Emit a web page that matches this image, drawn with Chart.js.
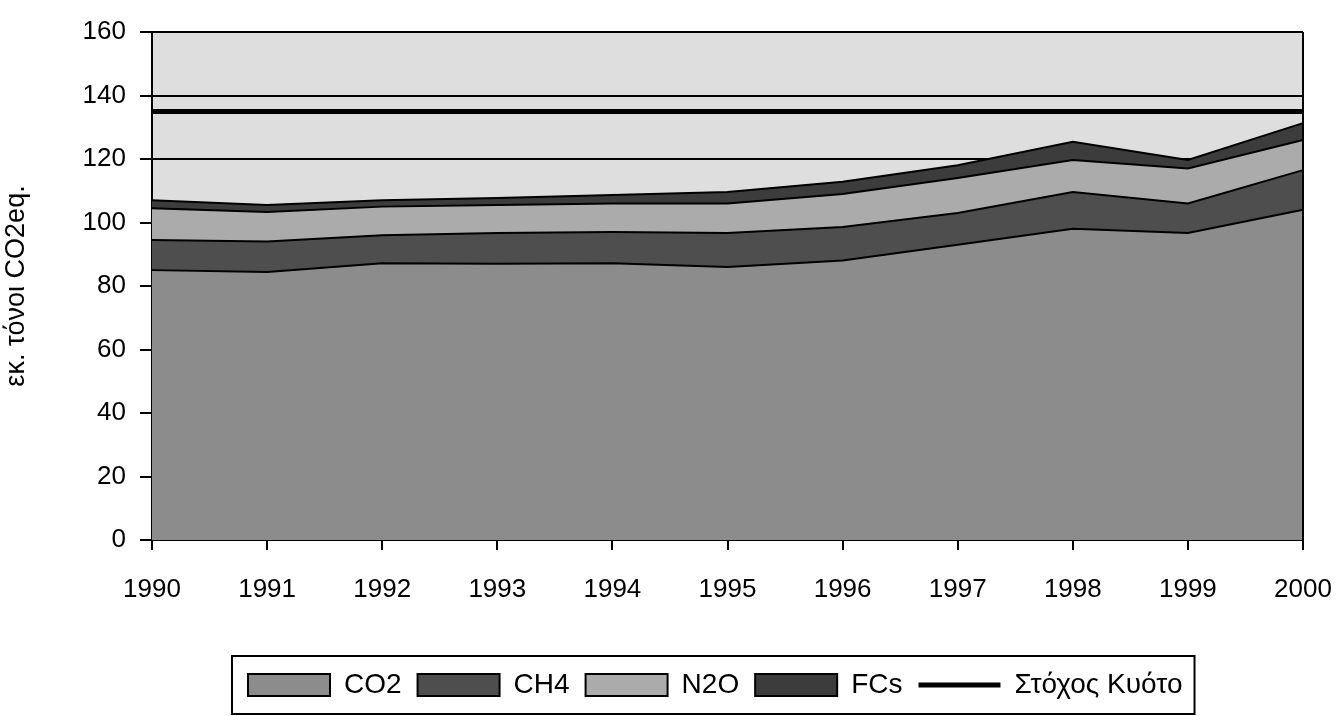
<!DOCTYPE html>
<html>
<head>
<meta charset="utf-8">
<script src="https://cdn.jsdelivr.net/npm/chart.js@4.4.1/dist/chart.umd.min.js"></script>
<style>
  html, body { margin: 0; padding: 0; background: #fff; }
</style>
</head>
<body>
<canvas id="myChart" width="1336" height="716"></canvas>
<script>
// values (million t CO2 eq.)
const years = ['1990', '1991', '1992', '1993', '1994', '1995', '1996', '1997', '1998', '1999', '2000'];
const co2 = [85, 84.4, 87.2, 87, 87.2, 86, 88, 93, 98, 96.7, 104];
const ch4 = [9.5, 9.6, 8.8, 9.7, 9.8, 10.7, 10.6, 10, 11.6, 9.3, 12.5];
const n2o = [10, 9.3, 9, 8.8, 9, 9.3, 10.4, 11, 10.1, 11, 9.5];
const fcs = [2.5, 2.2, 2, 2.2, 2.7, 3.6, 3.8, 4, 5.7, 2.7, 5.3];
const kyotoTarget = [135, 135, 135, 135, 135, 135, 135, 135, 135, 135, 135];

const fontFamily = '"Liberation Sans", Arial, sans-serif';
const ctx = document.getElementById('myChart').getContext('2d');

function area(label, data, color, fill){
  return {
    label: label,
    data: data,
    backgroundColor: color,
    borderColor: '#000',
    borderWidth: 2,
    fill: fill,
    tension: 0,
    pointRadius: 0,
    pointStyle: 'rect',
    stack: 'gases'
  };
}

const chartData = {
  labels: years,
  datasets: [
    area('CO2', co2, '#8c8c8c', 'origin'),
    area('CH4', ch4, '#4e4e4e', '-1'),
    area('N2O', n2o, '#ababab', '-1'),
    area('FCs', fcs, '#3c3c3c', '-1'),
    {
      label: 'Στόχος Κυότο',
      data: kyotoTarget,
      borderColor: '#000',
      backgroundColor: '#000',
      borderWidth: 5,
      fill: false,
      pointRadius: 0,
      pointStyle: 'line',
      stack: 'kyoto',
      order: -1
    }
  ]
};

// plot background, right border, legend position and frame
const legendStart = 248;
const legendFont = 28;
const frame = {
  id: 'frame',
  beforeDraw(chart){
    const a = chart.chartArea;
    const c = chart.ctx;
    c.save();
    c.fillStyle = '#dedede';
    c.fillRect(a.left, a.top, a.right - a.left, a.bottom - a.top);
    c.restore();
  },
  afterUpdate(chart){
    const lg = chart.legend;
    const w = lg.right - lg.left;
    lg.left = legendStart - lg.options.labels.padding;
    lg.right = lg.left + w;
  },
  afterDraw(chart){
    const a = chart.chartArea;
    const c = chart.ctx;
    c.save();
    c.strokeStyle = '#000';
    c.lineWidth = 2;
    c.beginPath();
    c.moveTo(a.right, a.top);
    c.lineTo(a.right, a.bottom);
    c.stroke();
    const lg = chart.legend;
    const pad = lg.options.labels.padding;
    const cy = lg.top + pad + legendFont / 2;
    const x0 = legendStart - 16;
    const x1 = legendStart + lg.lineWidths[0] - pad + 12;
    c.strokeRect(x0, cy - 29, x1 - x0, 58);
    c.restore();
  }
};

const chartOptions = {
  responsive: false,
  animation: false,
  layout: {
    padding: {top: 32, right: 0, bottom: 7, left: 0}
  },
  plugins: {
    tooltip: {enabled: false},
    legend: {
      position: 'bottom',
      align: 'start',
      labels: {
        usePointStyle: true,
        pointStyleWidth: 82,
        boxHeight: 22,
        padding: 16,
        color: '#000',
        font: {family: fontFamily, size: legendFont},
        sort: (a, b) => a.datasetIndex - b.datasetIndex
      }
    }
  },
  scales: {
    x: {
      offset: false,
      grid: {
        drawOnChartArea: false,
        tickLength: 10,
        tickColor: '#000',
        lineWidth: 2
      },
      border: {color: '#000', width: 2},
      ticks: {
        color: '#000',
        padding: 24,
        maxRotation: 0,
        font: {family: fontFamily, size: 26}
      },
      afterFit(scale){
        scale.height = 115;
        scale.paddingRight = 33;
      }
    },
    y: {
      stacked: true,
      min: 0,
      max: 160,
      grid: {
        color: '#000',
        lineWidth: 2,
        tickLength: 12,
        tickColor: '#000'
      },
      border: {color: '#000', width: 2},
      ticks: {
        stepSize: 20,
        color: '#000',
        padding: 14,
        font: {family: fontFamily, size: 26}
      },
      title: {
        display: true,
        text: 'εκ. τόνοι CO2eq.',
        color: '#000',
        padding: {top: 0, bottom: 0},
        font: {family: fontFamily, size: 27}
      },
      afterFit(scale){ scale.width = 152; }
    }
  }
};

const myChart = new Chart(ctx, {type: 'line', data: chartData, options: chartOptions, plugins: [frame]});
</script>
</body>
</html>
